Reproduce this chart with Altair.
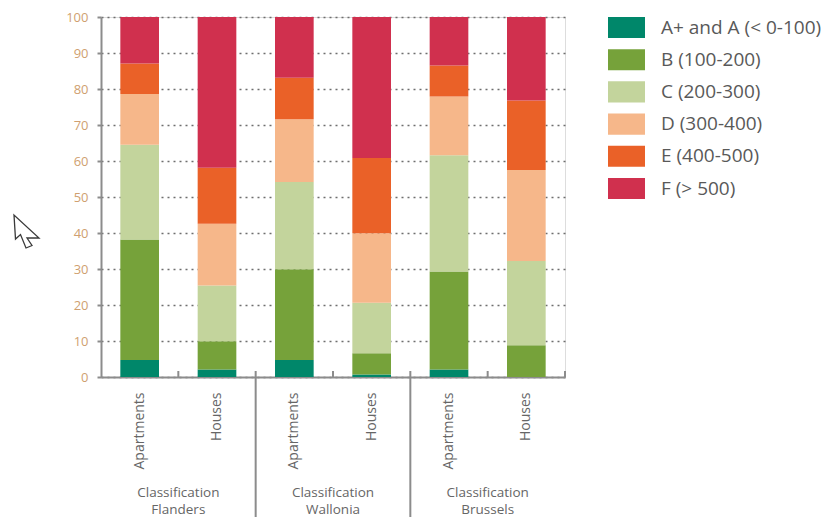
import altair as alt
import pandas as pd

# Energy performance classes (kWh/m² per year) of residential buildings
regions = ["Flanders", "Wallonia", "Brussels"]
dwellings = ["Apartments", "Houses"]
classes = [
    "A+ and A (< 0-100)",
    "B (100-200)",
    "C (200-300)",
    "D (300-400)",
    "E (400-500)",
    "F (> 500)",
]
palette = ["#00876a", "#76a23a", "#c3d49c", "#f6b78a", "#ea6128", "#d0304e"]

# share of the stock (%) in each class, A+/A first
flanders_apartments = [4.7, 33.5, 26.3, 14.1, 8.5, 12.9]
flanders_houses = [2.1, 7.8, 15.5, 17.2, 15.5, 41.9]
wallonia_apartments = [4.7, 25.2, 24.3, 17.4, 11.5, 16.9]
wallonia_houses = [0.7, 5.9, 14.0, 19.3, 20.9, 39.2]
brussels_apartments = [2.1, 27.2, 32.3, 16.3, 8.6, 13.5]
brussels_houses = [0.0, 8.8, 23.4, 25.3, 19.3, 23.2]

shares = {
    ("Flanders", "Apartments"): flanders_apartments,
    ("Flanders", "Houses"): flanders_houses,
    ("Wallonia", "Apartments"): wallonia_apartments,
    ("Wallonia", "Houses"): wallonia_houses,
    ("Brussels", "Apartments"): brussels_apartments,
    ("Brussels", "Houses"): brussels_houses,
}

slots = [f"{r}|{d}" for r in regions for d in dwellings]

rows = []
for (region, dwelling), values in shares.items():
    for i, (cls, v) in enumerate(zip(classes, values)):
        rows.append({"slot": f"{region}|{dwelling}", "cls": cls, "rank": i, "share": v})
bars_df = pd.DataFrame(rows)

FONT = "Open Sans"
AXIS_GREY = "#8c8c8c"
TEXT_GREY = "#666666"
W, H = 464, 360

x_scale = alt.Scale(domain=slots, paddingInner=0, paddingOuter=0)
x_axis = alt.Axis(
    labelExpr="split(datum.label, '|')[1]",
    labelAngle=270,
    labelAlign="right",
    labelBaseline="middle",
    labelPadding=15,
    labelFont=FONT,
    labelFontSize=14,
    labelColor=TEXT_GREY,
    ticks=False,
    domainColor=AXIS_GREY,
    domainWidth=2,
    grid=False,
)

bars = alt.Chart(bars_df).mark_bar(width={"band": 0.5}).encode(
    x=alt.X("slot:N", scale=x_scale, sort=slots, title=None, axis=x_axis),
    y=alt.Y(
        "share:Q",
        stack="zero",
        scale=alt.Scale(domain=[0, 100], nice=False),
        title=None,
        axis=alt.Axis(
            values=list(range(0, 101, 10)),
            grid=True,
            gridDash=[2, 4],
            gridColor="#6e6e6e",
            gridWidth=1.5,
            tickSize=4,
            tickColor=AXIS_GREY,
            tickWidth=2,
            domainColor=AXIS_GREY,
            domainWidth=2,
            labelPadding=9,
            labelFont=FONT,
            labelFontSize=13,
            labelColor="#cf9f70",
        ),
    ),
    color=alt.Color(
        "cls:N",
        sort=classes,
        scale=alt.Scale(domain=classes, range=palette),
        legend=alt.Legend(
            title=None,
            orient="none",
            legendX=507,
            legendY=-8,
            padding=0,
            symbolType="M-1,-0.57L1,-0.57L1,0.57L-1,0.57Z",
            symbolSize=1369,
            symbolStrokeWidth=0,
            symbolOpacity=1,
            labelFont=FONT,
            labelFontSize=19,
            labelColor="#595959",
            labelOffset=16,
            rowPadding=2.2,
            labelLimit=300,
        ),
    ),
    order=alt.Order("rank:Q", sort="ascending"),
)

inner_df = pd.DataFrame({"slot": [s for s in slots if s.endswith("Houses")]})
group_df = pd.DataFrame({"slot": [s for s in slots if s.endswith("Apartments")][1:]})
end_df = pd.DataFrame({"slot": slots[-1:]})

x_start = alt.X("slot:N", scale=x_scale, sort=slots, bandPosition=0, title=None, axis=x_axis)
x_end = alt.X("slot:N", scale=x_scale, sort=slots, bandPosition=1, title=None, axis=x_axis)

# short ticks between the two dwelling types of a region and at the axis end
inner_ticks = alt.Chart(inner_df).mark_rule(color=AXIS_GREY, strokeWidth=2).encode(
    x=x_start, y=alt.value(H - 6), y2=alt.value(H)
)
end_tick = alt.Chart(end_df).mark_rule(color=AXIS_GREY, strokeWidth=2).encode(
    x=x_end, y=alt.value(H - 6), y2=alt.value(H)
)
# long separators between regions
separators = alt.Chart(group_df).mark_rule(color=AXIS_GREY, strokeWidth=2).encode(
    x=x_start, y=alt.value(H - 6), y2=alt.value(H + 140)
)

# two-line region captions under each pair of bars
caption_style = dict(font=FONT, fontSize=13.5, color=TEXT_GREY, baseline="middle", align="center")
captions = pd.DataFrame(
    {
        "slot": [f"{r}|Houses" for r in regions],
        "line1": ["Classification"] * len(regions),
        "line2": regions,
    }
)
caption_top = alt.Chart(captions).mark_text(**caption_style).encode(
    x=x_start, y=alt.value(H + 116), text="line1:N"
)
caption_bottom = alt.Chart(captions).mark_text(**caption_style).encode(
    x=x_start, y=alt.value(H + 133), text="line2:N"
)

# mouse pointer glyph at the left margin
pointer = alt.Chart(pd.DataFrame({"k": [0]})).mark_point(
    shape="M0,0L1.5,24L6.5,19.5L12,33L18,30.5L13,23L25,23Z",
    size=4,
    filled=True,
    fill="white",
    stroke="#3a3a3a",
    strokeWidth=1.3,
    opacity=1,
).encode(x=alt.value(-87), y=alt.value(198))

chart = (
    alt.layer(bars, inner_ticks, end_tick, separators, caption_top, caption_bottom, pointer)
    .properties(
        width=W,
        height=H,
        autosize=alt.AutoSizeParams(type="none"),
        padding={"left": 101, "top": 17, "right": 268, "bottom": 140},
    )
    .configure_view(stroke=None)
    .configure(background="white")
)

chart.save("out.html", embed_options={"renderer": "svg", "actions": False})
